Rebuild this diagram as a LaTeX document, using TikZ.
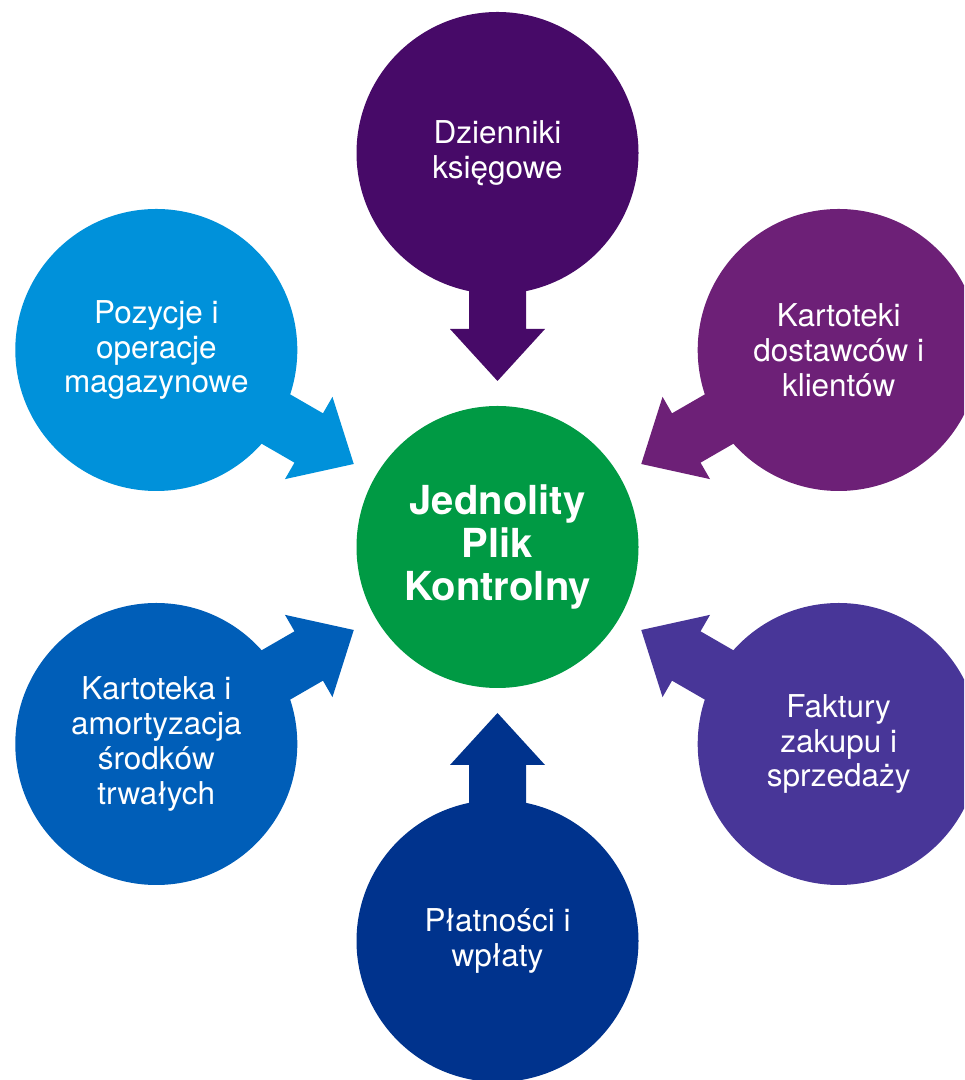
\documentclass[tikz,border=0pt]{standalone}
\usepackage{fontspec}
\setmainfont{TeX Gyre Heros}
\usetikzlibrary{backgrounds}
\definecolor{cTop}{HTML}{470A68}
\definecolor{cTR}{HTML}{6D2077}
\definecolor{cTL}{HTML}{0091DA}
\definecolor{cBL}{HTML}{005EB8}
\definecolor{cBot}{HTML}{00338D}
\definecolor{cBR}{HTML}{483698}
\definecolor{cHub}{HTML}{009A44}
\newcommand{\blockarrow}[3]{%
  \fill[#3, shift={(#1.center)}, rotate=#2]
    (120,-28.5) -- (176,-28.5) -- (176,-47.5) -- (228,0) -- (176,47.5) -- (176,28.5) -- (120,28.5) -- cycle;}
\begin{document}
\begin{tikzpicture}[x=0.75pt,y=0.75pt,
  bubble/.style={circle, minimum size=211.5pt, inner sep=0pt, text=white, align=center,
    font=\fontsize{23.6}{26.2}\selectfont},
  hub/.style={bubble, font=\bfseries\fontsize{30}{32}\selectfont}]
\clip (0,0) rectangle (964,1080);
\node[hub, fill=cHub] (hub) at (497.5,533) {Jednolity\\Plik\\Kontrolny};
\node[bubble, fill=cTop] (top) at (497.5,927) {Dzienniki\\księgowe};
\node[bubble, fill=cTR] (tr) at (838.7,730) {Kartoteki\\dostawców i\\klientów};
\node[bubble, fill=cBR] (br) at (838.7,336) {Faktury\\zakupu i\\sprzedaży};
\node[bubble, fill=cBot] (bot) at (497.5,139) {Płatności i\\wpłaty};
\node[bubble, fill=cBL] (bl) at (156.3,336) {Kartoteka i\\amortyzacja\\środków\\trwałych};
\node[bubble, fill=cTL] (tl) at (156.3,730) {Pozycje i\\operacje\\magazynowe};
\begin{pgfonlayer}{background}
\blockarrow{top}{-90}{cTop}
\blockarrow{tr}{210}{cTR}
\blockarrow{br}{150}{cBR}
\blockarrow{bot}{90}{cBot}
\blockarrow{bl}{30}{cBL}
\blockarrow{tl}{-30}{cTL}
\end{pgfonlayer}
\end{tikzpicture}
\end{document}
